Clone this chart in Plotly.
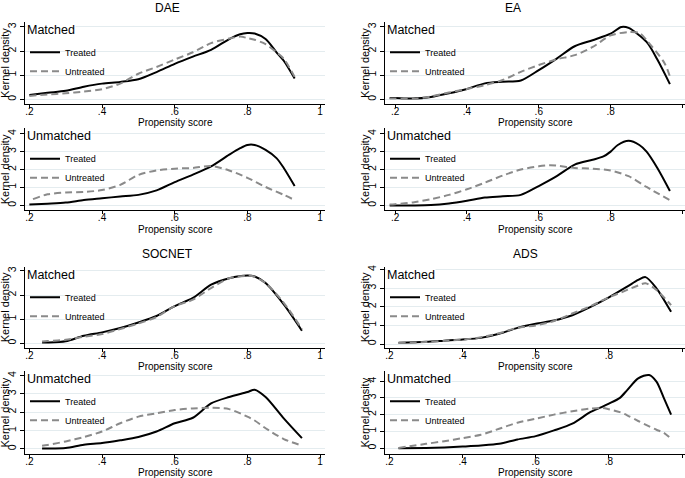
import plotly.graph_objects as go

W, H = 685, 478
FONT = "Liberation Sans, Arial, sans-serif"

# --- DAE ---
dae_m_x = [0.20, 0.25, 0.30, 0.35, 0.40, 0.45, 0.50, 0.55, 0.60, 0.65, 0.70, 0.75, 0.78, 0.80, 0.82, 0.85, 0.88, 0.90, 0.93]
dae_m_treated = [0.18, 0.27, 0.35, 0.52, 0.65, 0.72, 0.83, 1.13, 1.47, 1.77, 2.05, 2.50, 2.70, 2.75, 2.73, 2.50, 1.95, 1.60, 0.86]
dae_m_untreated = [0.14, 0.20, 0.25, 0.32, 0.42, 0.65, 1.06, 1.34, 1.65, 1.95, 2.33, 2.52, 2.60, 2.54, 2.47, 2.29, 1.95, 1.68, 0.93]

dae_u_x_t = [0.20, 0.25, 0.30, 0.35, 0.40, 0.45, 0.50, 0.55, 0.60, 0.65, 0.70, 0.75, 0.78, 0.80, 0.82, 0.85, 0.88, 0.90, 0.93]
dae_u_treated = [0.05, 0.10, 0.16, 0.30, 0.40, 0.50, 0.59, 0.84, 1.30, 1.72, 2.18, 2.83, 3.19, 3.37, 3.37, 3.10, 2.64, 2.09, 1.08]
dae_u_x_c = [0.21, 0.25, 0.30, 0.35, 0.40, 0.45, 0.50, 0.55, 0.60, 0.65, 0.70, 0.75, 0.80, 0.85, 0.90, 0.93]
dae_u_untreated = [0.35, 0.62, 0.72, 0.75, 0.86, 1.15, 1.70, 1.95, 2.05, 2.09, 2.20, 1.95, 1.54, 1.03, 0.59, 0.30]

# --- EA ---
ea_m_x_t = [0.185, 0.20, 0.25, 0.30, 0.35, 0.40, 0.45, 0.50, 0.55, 0.60, 0.65, 0.70, 0.75, 0.80, 0.83, 0.85, 0.90, 0.93, 0.965]
ea_m_treated = [0.05, 0.05, 0.03, 0.10, 0.25, 0.43, 0.66, 0.73, 0.78, 1.21, 1.69, 2.20, 2.45, 2.72, 3.00, 2.96, 2.38, 1.65, 0.63]
ea_m_x_c = [0.185, 0.20, 0.25, 0.30, 0.35, 0.40, 0.45, 0.50, 0.55, 0.60, 0.65, 0.70, 0.75, 0.80, 0.85, 0.88, 0.90, 0.95, 0.965]
ea_m_untreated = [0.03, 0.03, 0.01, 0.12, 0.28, 0.43, 0.59, 0.80, 1.14, 1.42, 1.66, 1.83, 2.17, 2.65, 2.79, 2.75, 2.45, 1.50, 0.94]

ea_u_x_t = [0.185, 0.20, 0.25, 0.30, 0.35, 0.40, 0.45, 0.50, 0.55, 0.60, 0.65, 0.70, 0.75, 0.78, 0.80, 0.82, 0.85, 0.88, 0.90, 0.93, 0.965]
ea_u_treated = [0.00, 0.00, 0.00, 0.02, 0.11, 0.26, 0.44, 0.51, 0.59, 1.08, 1.63, 2.28, 2.55, 2.73, 3.00, 3.37, 3.60, 3.37, 3.00, 2.09, 0.81]
ea_u_x_c = [0.185, 0.20, 0.25, 0.30, 0.35, 0.40, 0.45, 0.50, 0.55, 0.60, 0.63, 0.65, 0.70, 0.75, 0.80, 0.85, 0.90, 0.965]
ea_u_untreated = [0.05, 0.07, 0.17, 0.35, 0.59, 0.90, 1.27, 1.67, 2.00, 2.18, 2.24, 2.22, 2.09, 2.05, 1.95, 1.63, 1.03, 0.29]

# --- SOCNET ---
soc_x = [0.235, 0.25, 0.30, 0.35, 0.40, 0.45, 0.50, 0.55, 0.60, 0.65, 0.70, 0.75, 0.80, 0.82, 0.85, 0.90, 0.95]
soc_m_treated = [0.03, 0.03, 0.08, 0.31, 0.45, 0.63, 0.86, 1.13, 1.54, 1.88, 2.43, 2.70, 2.81, 2.77, 2.50, 1.61, 0.52]
soc_m_untreated = [0.07, 0.09, 0.14, 0.27, 0.38, 0.59, 0.82, 1.09, 1.54, 1.81, 2.29, 2.70, 2.80, 2.76, 2.50, 1.68, 0.59]
soc_u_treated = [0.02, 0.02, 0.05, 0.23, 0.32, 0.47, 0.65, 0.95, 1.40, 1.70, 2.48, 2.83, 3.10, 3.23, 2.83, 1.67, 0.59]
soc_u_untreated = [0.18, 0.22, 0.41, 0.65, 0.95, 1.40, 1.76, 1.94, 2.12, 2.21, 2.24, 2.17, 1.76, 1.55, 1.13, 0.54, 0.18]

# --- ADS ---
ads_m_x = [0.225, 0.30, 0.35, 0.40, 0.45, 0.50, 0.55, 0.60, 0.65, 0.70, 0.75, 0.80, 0.85, 0.88, 0.90, 0.93, 0.97]
ads_m_treated = [0.07, 0.12, 0.18, 0.24, 0.33, 0.55, 0.87, 1.09, 1.27, 1.55, 2.00, 2.51, 3.09, 3.45, 3.60, 3.00, 1.73]
ads_m_untreated = [0.05, 0.11, 0.17, 0.24, 0.36, 0.58, 0.87, 1.00, 1.24, 1.64, 2.04, 2.51, 2.91, 3.15, 3.27, 2.91, 2.09]

ads_u_x = [0.225, 0.30, 0.35, 0.40, 0.45, 0.50, 0.55, 0.60, 0.65, 0.70, 0.75, 0.78, 0.80, 0.83, 0.85, 0.88, 0.91, 0.93, 0.95, 0.97]
ads_u_treated = [0.00, 0.02, 0.05, 0.10, 0.16, 0.26, 0.52, 0.72, 1.06, 1.46, 2.16, 2.45, 2.66, 3.00, 3.46, 4.16, 4.36, 3.96, 3.00, 2.00]
ads_u_untreated = [0.02, 0.26, 0.42, 0.60, 0.80, 1.16, 1.52, 1.76, 2.00, 2.20, 2.36, 2.40, 2.32, 2.15, 1.96, 1.62, 1.30, 1.10, 0.92, 0.56]

x_tickvals = [0.2, 0.4, 0.6, 0.8, 1.0]
x_ticktext = [".2", ".4", ".6", ".8", "1"]

# panel: (label, treated x, treated y, untreated x, untreated y, column, row, top y tick, y range, x range)
panels = [
    ("Matched", dae_m_x, dae_m_treated, dae_m_x, dae_m_untreated, 0, 0, 3, [-0.19, 3.21], [0.188, 1.0135]),
    ("Unmatched", dae_u_x_t, dae_u_treated, dae_u_x_c, dae_u_untreated, 0, 1, 4, [-0.26, 4.29], [0.188, 1.0135]),
    ("Matched", ea_m_x_t, ea_m_treated, ea_m_x_c, ea_m_untreated, 1, 0, 3, [-0.19, 3.21], [0.172, 1.007]),
    ("Unmatched", ea_u_x_t, ea_u_treated, ea_u_x_c, ea_u_untreated, 1, 1, 4, [-0.26, 4.29], [0.172, 1.007]),
    ("Matched", soc_x, soc_m_treated, soc_x, soc_m_untreated, 0, 2, 3, [-0.18, 3.17], [0.188, 1.0135]),
    ("Unmatched", soc_x, soc_u_treated, soc_x, soc_u_untreated, 0, 3, 4, [-0.28, 4.25], [0.188, 1.0135]),
    ("Matched", ads_m_x, ads_m_treated, ads_m_x, ads_m_untreated, 1, 2, 4, [-0.19, 4.15], [0.188, 1.008]),
    ("Unmatched", ads_u_x, ads_u_treated, ads_u_x, ads_u_untreated, 1, 3, 4, [-0.35, 4.6], [0.188, 1.008]),
]

group_titles = [("DAE", 167, 6), ("EA", 513, 6), ("SOCNET", 167, 253), ("ADS", 525, 253)]

# pixel boxes of the plot areas
col_px = [(25, 325), (385, 685)]
row_px = [(20, 102.3), (127, 209), (266, 347), (370.5, 454)]
xtitle_y = [121, 228, 366, 472.5]
xtitle_x = [175, 535]
ytitle_x = [5, 365]


def px_x(v):
    return v / W


def px_y(v):
    return 1 - v / H


fig = go.Figure()
annotations = []
layout = {}

for i, (label, xt, yt, xc, yc, col, row, ymax, yrange, xrange) in enumerate(panels):
    k = i + 1
    suffix = "" if k == 1 else str(k)
    leg = "legend" + suffix
    x0, x1 = col_px[col]
    top, bot = row_px[row]

    fig.add_trace(go.Scatter(
        x=xt, y=yt, mode="lines", name="Treated",
        line=dict(color="black", width=2, shape="spline", smoothing=0.8),
        xaxis="x" + suffix, yaxis="y" + suffix, legend=leg,
    ))
    fig.add_trace(go.Scatter(
        x=xc, y=yc, mode="lines", name="Untreated",
        line=dict(color="#8a8a8a", width=2, dash="7px,4px", shape="spline", smoothing=0.8),
        xaxis="x" + suffix, yaxis="y" + suffix, legend=leg,
    ))

    layout["xaxis" + suffix] = dict(
        domain=[px_x(x0), px_x(x1)], anchor="y" + suffix, range=xrange,
        tickvals=x_tickvals, ticktext=x_ticktext, ticks="outside", ticklen=3,
        ticklabelstandoff=-5,
        tickcolor="black", showline=True, linecolor="black", linewidth=1,
        showgrid=False, zeroline=False, tickfont=dict(size=10, color="black"),
    )
    layout["yaxis" + suffix] = dict(
        domain=[px_y(bot), px_y(top)], anchor="x" + suffix, range=yrange,
        tickvals=list(range(ymax + 1)), ticks="outside", ticklen=4, tickangle=-90,
        tickcolor="black", showline=True, linecolor="black", linewidth=1,
        showgrid=True, gridcolor="#e4ecef", gridwidth=1, zeroline=False,
        tickfont=dict(size=10.5, color="black"),
    )
    # legend sits inside each panel, no box so the curves stay visible
    layout[leg] = dict(
        x=px_x(x0), y=px_y(top + 40), xanchor="left", yanchor="middle",
        bgcolor="rgba(0,0,0,0)", borderwidth=0, itemwidth=30, tracegroupgap=0,
        font=dict(size=9, color="black"),
    )

    annotations.append(dict(
        text=label, xref="x" + suffix + " domain", yref="y" + suffix + " domain",
        x=0.003, y=1.0, xanchor="left", yanchor="top", showarrow=False,
        font=dict(size=12.5, color="black"), bgcolor="white", borderpad=0,
    ))
    annotations.append(dict(
        text="Propensity score", xref="paper", yref="paper",
        x=px_x(xtitle_x[col]), y=px_y(xtitle_y[row]), xanchor="center", yanchor="middle",
        showarrow=False, font=dict(size=10, color="black"),
    ))
    annotations.append(dict(
        text="Kernel density", xref="paper", yref="paper", textangle=-90,
        x=px_x(ytitle_x[col]), y=px_y((top + bot) / 2), xanchor="center", yanchor="middle",
        showarrow=False, font=dict(size=11, color="black"),
    ))

for title, tx, ty in group_titles:
    annotations.append(dict(
        text=title, xref="paper", yref="paper", x=px_x(tx), y=px_y(ty),
        xanchor="center", yanchor="middle", showarrow=False,
        font=dict(size=12, color="black"),
    ))

fig.update_layout(
    width=W, height=H,
    margin=dict(l=0, r=0, t=0, b=0),
    paper_bgcolor="white", plot_bgcolor="white",
    font=dict(family=FONT, color="black"),
    showlegend=True,
    annotations=annotations,
    **layout,
)

# drop the browser's default body margin so the figure fills the window
fig.write_html(
    "out.html",
    config={"displayModeBar": False},
    post_script="document.body.style.margin='0';",
)
